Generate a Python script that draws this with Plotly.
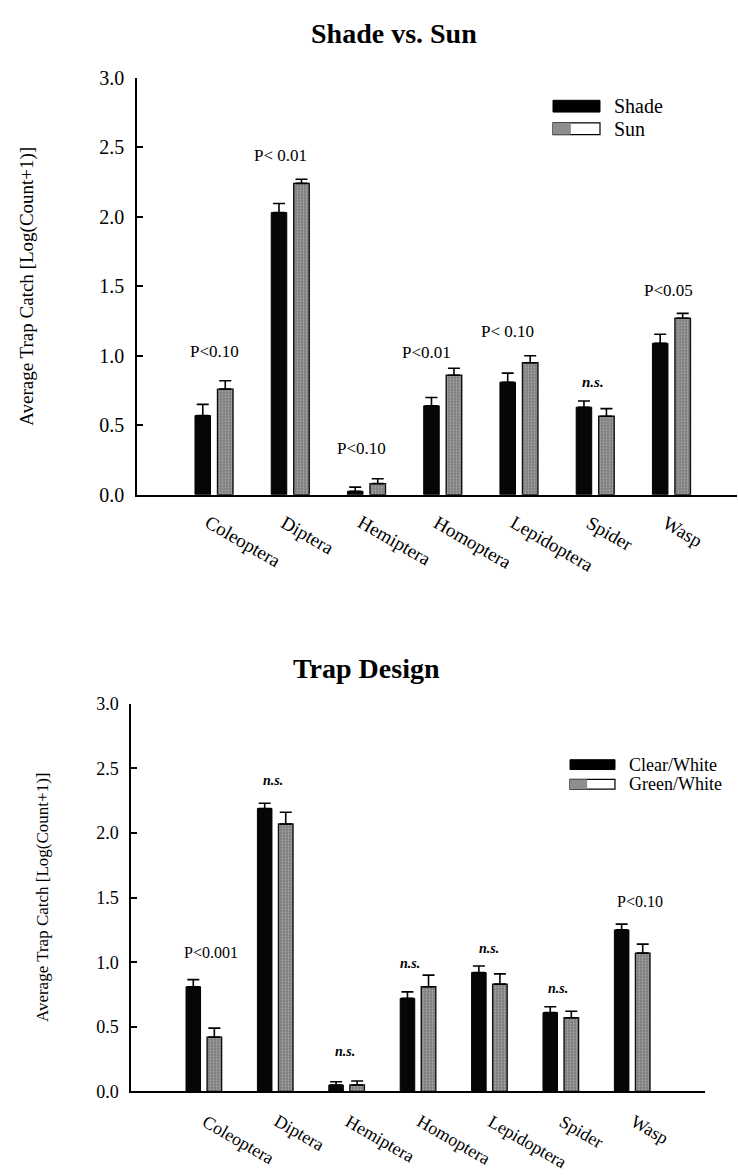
import plotly.graph_objects as go

# ---- data -----------------------------------------------------------------
categories = ["Coleoptera", "Diptera", "Hemiptera", "Homoptera",
              "Lepidoptera", "Spider", "Wasp"]

shade_mean = [0.57, 2.03, 0.025, 0.64, 0.81, 0.63, 1.09]
shade_se = [0.08, 0.065, 0.03, 0.06, 0.065, 0.045, 0.065]
sun_mean = [0.76, 2.24, 0.08, 0.86, 0.95, 0.565, 1.27]
sun_se = [0.06, 0.03, 0.035, 0.05, 0.05, 0.055, 0.035]
sun_labels = ["P<0.10", "P< 0.01", "P<0.10", "P<0.01", "P< 0.10", "n.s.", "P<0.05"]

clear_mean = [0.81, 2.19, 0.05, 0.72, 0.92, 0.61, 1.25]
clear_se = [0.055, 0.04, 0.025, 0.05, 0.05, 0.045, 0.045]
green_mean = [0.42, 2.07, 0.05, 0.81, 0.83, 0.57, 1.07]
green_se = [0.07, 0.09, 0.03, 0.09, 0.08, 0.05, 0.07]
trap_labels = ["P<0.001", "n.s.", "n.s.", "n.s.", "n.s.", "n.s.", "P<0.10"]

y_ticks = [0.0, 0.5, 1.0, 1.5, 2.0, 2.5, 3.0]

# ---- layout helpers (pixel -> paper) ---------------------------------------
W, H = 738, 1176
FONT = "Liberation Serif"


def px(x):
    return x / W


def py(y):
    return 1 - y / H


# label nudges in pixels (x, y above the error-bar cap)
sun_label_dx = [0, -10, -5, -16, -11, -2, -3]
sun_label_dy = [29, 24, 30, 16, 24, 19, 23]
trap_label_dx = [7, -2, -2, -8, 0, -3, 8]
trap_label_dy = [27, 23, 30, 12, 18, 18, 23]

fig = go.Figure()

black_marker = dict(color="#060606", line=dict(color="black", width=1))
stipple_marker = dict(
    color="#8a8a8a",
    line=dict(color="#111111", width=1.4),
    pattern=dict(shape=".", fgcolor="#d2d2d2", bgcolor="#7e7e7e",
                 size=3, solidity=0.3),
)


def err(vals):
    return dict(type="data", symmetric=False, array=vals,
                arrayminus=[0] * len(vals), color="black",
                thickness=1.6, width=6)


fig.add_trace(go.Bar(x=categories, y=shade_mean, name="Shade",
                     marker=black_marker, error_y=err(shade_se),
                     xaxis="x", yaxis="y"))
fig.add_trace(go.Bar(x=categories, y=sun_mean, name="Sun",
                     marker=stipple_marker, error_y=err(sun_se),
                     xaxis="x", yaxis="y"))
fig.add_trace(go.Bar(x=categories, y=clear_mean, name="Clear/White",
                     marker=black_marker, error_y=err(clear_se),
                     xaxis="x2", yaxis="y2"))
fig.add_trace(go.Bar(x=categories, y=green_mean, name="Green/White",
                     marker=stipple_marker, error_y=err(green_se),
                     xaxis="x2", yaxis="y2"))

annotations = []
shapes = []


def sig_label(text, size):
    if text == "n.s.":
        return "<b><i>n.s.</i></b>", size - 2
    return text, size


# significance labels above each pair
for i, cat in enumerate(categories):
    top = max(shade_mean[i] + shade_se[i], sun_mean[i] + sun_se[i])
    t, s = sig_label(sun_labels[i], 17)
    annotations.append(dict(x=cat, y=top, xref="x", yref="y", text=t,
                            showarrow=False, xanchor="center", yanchor="middle",
                            xshift=sun_label_dx[i], yshift=sun_label_dy[i],
                            font=dict(family=FONT, size=s, color="black")))
    top2 = max(clear_mean[i] + clear_se[i], green_mean[i] + green_se[i])
    t2, s2 = sig_label(trap_labels[i], 16)
    annotations.append(dict(x=cat, y=top2, xref="x2", yref="y2", text=t2,
                            showarrow=False, xanchor="center", yanchor="middle",
                            xshift=trap_label_dx[i], yshift=trap_label_dy[i],
                            font=dict(family=FONT, size=s2, color="black")))
    # slanted category names
    annotations.append(dict(x=cat, y=0, xref="x", yref="y", text=cat,
                            showarrow=False, textangle=30,
                            xanchor="left", yanchor="top",
                            xshift=-15, yshift=-14,
                            font=dict(family=FONT, size=19, color="black")))
    annotations.append(dict(x=cat, y=0, xref="x2", yref="y2", text=cat,
                            showarrow=False, textangle=30,
                            xanchor="left", yanchor="top",
                            xshift=-7, yshift=-17,
                            font=dict(family=FONT, size=18, color="black")))

# panel titles
annotations.append(dict(x=px(394), y=py(23), xref="paper", yref="paper",
                        text="<b>Shade vs. Sun</b>", showarrow=False,
                        xanchor="center", yanchor="middle",
                        font=dict(family=FONT, size=28, color="black")))
annotations.append(dict(x=px(366), y=py(670), xref="paper", yref="paper",
                        text="<b>Trap Design</b>", showarrow=False,
                        xanchor="center", yanchor="middle",
                        font=dict(family=FONT, size=28, color="black")))

# y-axis titles
ytitle = "Average Trap Catch [Log(Count+1)]"
annotations.append(dict(x=px(27), y=py(281), xref="paper", yref="paper",
                        text=ytitle, showarrow=False, textangle=-90,
                        xanchor="center", yanchor="middle",
                        font=dict(family=FONT, size=19, color="black")))
annotations.append(dict(x=px(42), y=py(903), xref="paper", yref="paper",
                        text=ytitle, showarrow=False, textangle=-90,
                        xanchor="center", yanchor="middle",
                        font=dict(family=FONT, size=17, color="black")))


# hand-drawn legends with wide swatches
def legend_entry(x0, x1, yc, h, name, size, solid):
    y0, y1 = yc - h / 2, yc + h / 2
    if solid:
        shapes.append(dict(type="rect", xref="paper", yref="paper",
                           x0=px(x0), x1=px(x1), y0=py(y1), y1=py(y0),
                           fillcolor="black", line=dict(color="black", width=1)))
    else:
        shapes.append(dict(type="rect", xref="paper", yref="paper",
                           x0=px(x0), x1=px(x1), y0=py(y1), y1=py(y0),
                           fillcolor="white", line=dict(color="black", width=1.2)))
        shapes.append(dict(type="rect", xref="paper", yref="paper",
                           x0=px(x0), x1=px(x0 + (x1 - x0) * 0.38),
                           y0=py(y1), y1=py(y0),
                           fillcolor="#8e8e8e", line=dict(width=0)))
    annotations.append(dict(x=px(x1 + 12), y=py(yc), xref="paper", yref="paper",
                            text=name, showarrow=False,
                            xanchor="left", yanchor="middle",
                            font=dict(family=FONT, size=size, color="black")))


legend_entry(553, 600, 97, 12, "Shade", 20, True)
legend_entry(553, 600, 120, 12, "Sun", 20, False)
legend_entry(570, 615, 768, 10, "Clear/White", 18, True)
legend_entry(570, 615, 788, 10, "Green/White", 18, False)

axis_common = dict(showgrid=False, zeroline=False, showline=True,
                   linecolor="black", linewidth=1.5)

fig.update_layout(
    width=W, height=H,
    margin=dict(l=0, r=0, t=0, b=0),
    paper_bgcolor="white", plot_bgcolor="white",
    barmode="group", bargap=0.41, bargroupgap=0.31,
    showlegend=False,
    font=dict(family=FONT, color="black"),
    xaxis=dict(domain=[px(137), px(737)], range=[-1.01, 6.86],
               anchor="y", showticklabels=False, ticks="", **axis_common),
    yaxis=dict(domain=[py(493), py(68)], range=[0, 3.0], anchor="x",
               tickvals=y_ticks, ticktext=[f"{v:.1f}" for v in y_ticks],
               ticks="inside", ticklen=6, tickwidth=1.5, tickcolor="black",
               ticklabelstandoff=7,
               tickfont=dict(family=FONT, size=20, color="black"),
               **axis_common),
    xaxis2=dict(domain=[px(131), px(705)], range=[-1.02, 7.02],
                anchor="y2", showticklabels=False, ticks="", **axis_common),
    yaxis2=dict(domain=[py(1101), py(706)], range=[0, 3.0], anchor="x2",
                tickvals=y_ticks, ticktext=[f"{v:.1f}" for v in y_ticks],
                ticks="inside", ticklen=6, tickwidth=1.5, tickcolor="black",
                ticklabelstandoff=7,
                tickfont=dict(family=FONT, size=18, color="black"),
                **axis_common),
    annotations=annotations,
    shapes=shapes,
)

fig.write_html("out.html")
